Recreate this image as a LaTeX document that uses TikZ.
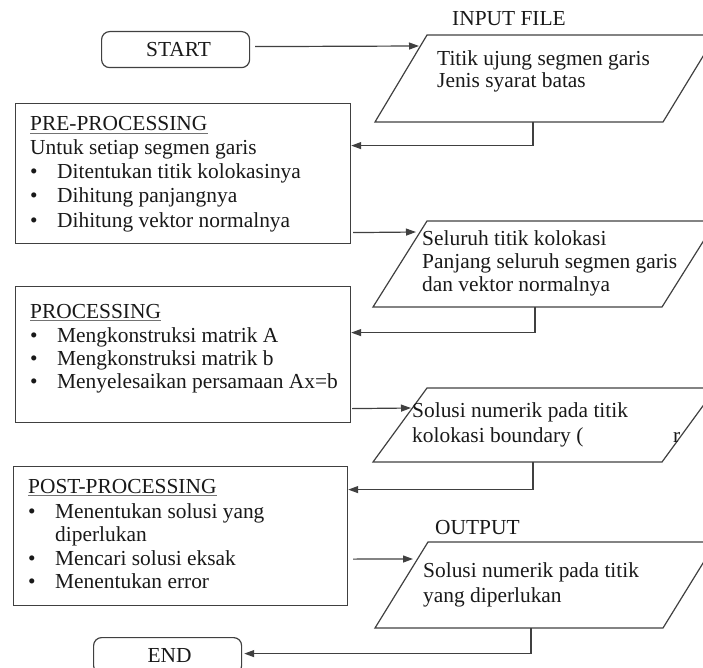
\documentclass[tikz,border=0pt]{standalone}
\usepackage{fontspec}
\setmainfont{Liberation Serif}
\usetikzlibrary{arrows.meta}
\newcommand\myfs{\fontsize{21.4}{23.5}\selectfont}
\newcommand\bul{\makebox[27pt][l]{\textbullet}}
\tikzset{
  ln/.style={draw=black!75, line width=1.2pt},
  arr/.style={ln, -{Triangle[length=10pt,width=7pt]}},
  box/.style={ln, rectangle, anchor=north west, inner sep=0pt},
  term/.style={ln, rectangle, rounded corners=8pt, inner sep=0pt, anchor=north west,
               minimum width=148pt, minimum height=36pt, text=black!90, font=\myfs},
  txt/.style={anchor=base west, inner sep=0pt, text=black!90, font=\myfs},
  ulst/.style={draw=black!55, line width=1.3pt},
  para/.style={ln, line join=miter},
}
\begin{document}
\begin{tikzpicture}[x=1pt, y=-1pt]
\useasboundingbox (0,0) rectangle (703,668);
\clip (0,0) rectangle (703,668);

% ---------- terminals ----------
\node[term] (start) at (101,31) {\hspace*{6pt}START};
\node[term] (end) at (93,637) {\hspace*{4pt}END};

% ---------- process boxes ----------
\node[box, minimum width=335pt, minimum height=140pt] (pre)  at (15,103) {};
\node[box, minimum width=335pt, minimum height=136pt] (proc) at (15,286) {};
\node[box, minimum width=334pt, minimum height=139pt] (post) at (13,466) {};

% PRE-PROCESSING text
\node[txt] (pret) at (30,131) {PRE-PROCESSING};
\draw[ulst] ([yshift=-2.5pt]pret.base west) -- ([yshift=-2.5pt]pret.base east);
\node[txt] (pre1) at (30,155) {Untuk setiap segmen garis};
\node[txt] (pre2) at (30,179) {\bul Ditentukan titik kolokasinya};
\node[txt] (pre3) at (30,203) {\bul Dihitung panjangnya};
\node[txt] (pre4) at (30,227) {\bul Dihitung vektor normalnya};

% PROCESSING text
\node[txt] (proct) at (30,318) {PROCESSING};
\draw[ulst] ([yshift=-2.5pt]proct.base west) -- ([yshift=-2.5pt]proct.base east);
\node[txt] (proc1) at (30,342) {\bul Mengkonstruksi matrik A};
\node[txt] (proc2) at (30,365) {\bul Mengkonstruksi matrik b};
\node[txt] (proc3) at (30,388) {\bul Menyelesaikan persamaan Ax=b};

% POST-PROCESSING text
\node[txt] (postt) at (28,493) {POST-PROCESSING};
\draw[ulst] ([yshift=-2.5pt]postt.base west) -- ([yshift=-2.5pt]postt.base east);
\node[txt] (post1) at (28,518) {\bul Menentukan solusi yang};
\node[txt] (post2) at (28,541) {\hspace*{27pt}diperlukan};
\node[txt] (post3) at (28,565) {\bul Mencari solusi eksak};
\node[txt] (post4) at (28,588) {\bul Menentukan error};

% ---------- data (parallelograms) ----------
\node[txt] (inlab) at (452,26) {INPUT FILE};
\draw[para] (427,35) -- (716,35) -- (663,122) -- (375,122) -- cycle;
\coordinate (p1in) at (419,46);
\coordinate (p1out) at (533,122);
\node[txt] (p1a) at (437,66) {Titik ujung segmen garis};
\node[txt] (p1b) at (437,88) {Jenis syarat batas};

\draw[para] (427,221) -- (716,221) -- (662,307) -- (373,307) -- cycle;
\coordinate (p2in) at (416,232);
\coordinate (p2out) at (535,307);
\node[txt] (p2a) at (422,245) {Seluruh titik kolokasi};
\node[txt] (p2b) at (422,268) {Panjang seluruh segmen garis};
\node[txt] (p2c) at (422,291) {dan vektor normalnya};

\draw[para] (427,388) -- (716,388) -- (662,462) -- (373,462) -- cycle;
\coordinate (p3in) at (411,408);
\coordinate (p3out) at (533,462);
\node[txt] (p3a) at (412,417) {Solusi numerik pada titik};
\node[txt] (p3b) at (412,442) {kolokasi boundary (};
\node[txt] (p3c) at (673,442) {r};

\node[txt] (outlab) at (435,534) {OUTPUT};
\draw[para] (428,542) -- (716,542) -- (663,628) -- (375,628) -- cycle;
\coordinate (p4in) at (413,559);
\coordinate (p4out) at (531,628);
\node[txt] (p4a) at (423,577) {Solusi numerik pada titik};
\node[txt] (p4b) at (423,602) {yang diperlukan};

% ---------- connectors ----------
\draw[arr] ([xshift=5pt,yshift=3pt]start.east) -- (p1in);
\draw[arr] (p1out) |- ([yshift=28pt]pre.east);
\draw[arr] ([xshift=2pt,yshift=-59pt]pre.east) -- (p2in);
\draw[arr] (p2out) |- ([yshift=22pt]proc.east);
\draw[arr] ([xshift=1pt,yshift=-54pt]proc.east) -- (p3in);
\draw[arr] (p3out) |- ([yshift=46.5pt]post.east);
\draw[arr] ([xshift=5pt,yshift=-23pt]post.east) -- (p4in);
\draw[arr] (p4out) |- ([xshift=2pt,yshift=2pt]end.east);
\end{tikzpicture}
\end{document}
